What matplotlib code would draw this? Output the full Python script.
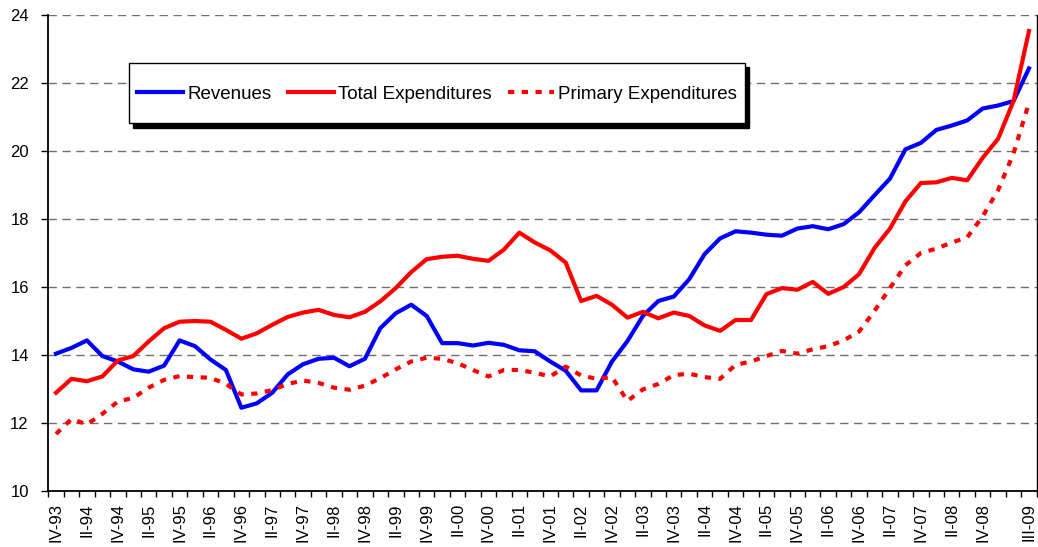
import numpy as np
import matplotlib
matplotlib.use("Agg")
import matplotlib.pyplot as plt
from matplotlib.lines import Line2D
from matplotlib.legend_handler import HandlerLine2D

plt.rcParams['font.family'] = ['Liberation Sans', 'DejaVu Sans']

# quarters IV-93 ... III-09
quarters = []
for y in range(1993, 2010):
    for q in ['I', 'II', 'III', 'IV']:
        quarters.append(q + '-' + str(y)[2:])
quarters = quarters[3:3 + 64]

revenues = [14.03, 14.20, 14.42, 13.96, 13.80, 13.57, 13.50, 13.68, 14.42, 14.25,
            13.86, 13.55, 12.44, 12.57, 12.88, 13.42, 13.72, 13.88, 13.91, 13.66,
            13.88, 14.78, 15.22, 15.47, 15.14, 14.34, 14.34, 14.27, 14.35, 14.29,
            14.13, 14.10, 13.80, 13.53, 12.95, 12.95, 13.80, 14.40, 15.14, 15.58,
            15.71, 16.22, 16.96, 17.42, 17.63, 17.59, 17.53, 17.50, 17.71, 17.78,
            17.69, 17.84, 18.19, 18.69, 19.18, 20.04, 20.23, 20.61, 20.74, 20.89,
            21.24, 21.33, 21.46, 22.42]

total_exp = [12.88, 13.29, 13.22, 13.36, 13.83, 13.96, 14.39, 14.78, 14.97, 14.99,
             14.97, 14.73, 14.47, 14.63, 14.88, 15.11, 15.24, 15.32, 15.17, 15.10,
             15.26, 15.57, 15.96, 16.43, 16.81, 16.88, 16.91, 16.82, 16.76, 17.09,
             17.59, 17.30, 17.07, 16.71, 15.58, 15.73, 15.47, 15.09, 15.26, 15.07,
             15.24, 15.14, 14.86, 14.70, 15.02, 15.02, 15.78, 15.96, 15.91, 16.14,
             15.79, 15.99, 16.37, 17.14, 17.71, 18.51, 19.05, 19.07, 19.20, 19.13,
             19.79, 20.35, 21.46, 23.52]

primary_exp = [11.67, 12.11, 11.95, 12.26, 12.62, 12.73, 13.03, 13.26, 13.37, 13.34,
               13.32, 13.14, 12.83, 12.86, 12.96, 13.14, 13.24, 13.17, 13.03, 12.97,
               13.09, 13.31, 13.57, 13.80, 13.91, 13.88, 13.75, 13.55, 13.36, 13.55,
               13.55, 13.47, 13.36, 13.65, 13.39, 13.29, 13.34, 12.64, 12.98, 13.14,
               13.40, 13.44, 13.34, 13.29, 13.70, 13.80, 13.96, 14.11, 14.03, 14.16,
               14.25, 14.42, 14.68, 15.29, 15.96, 16.63, 16.99, 17.12, 17.30, 17.45,
               18.07, 18.84, 19.92, 21.41]

label_idx = list(range(0, 61, 2)) + [63]

x = np.arange(len(quarters))

fig = plt.figure(figsize=(10.38, 5.47), dpi=100)
ax = fig.add_axes([48.3 / 1038, 1 - 490.7 / 547, (1036.7 - 48.3) / 1038, (490.7 - 14.7) / 547])

ax.plot(x, revenues, color='#0000FF', lw=3, solid_joinstyle='round', label='Revenues')
ax.plot(x, total_exp, color='#FF0000', lw=3, solid_joinstyle='round', label='Total Expenditures')
ax.plot(x, primary_exp, color='#FF0000', lw=3, linestyle=(0, (1.5, 1.8)),
        dash_capstyle='butt', label='Primary Expenditures')

ax.set_xlim(-0.5, len(quarters) - 0.5)
ax.set_ylim(10, 24)
ax.set_yticks(np.arange(10, 25, 2))
ax.tick_params(axis='y', direction='out', length=5, width=1, pad=9, labelsize=12)

ax.set_xticks(np.arange(-0.5, len(quarters), 1))
ax.set_xticklabels([])
ax.set_xticks(label_idx, minor=True)
ax.set_xticklabels([quarters[i] for i in label_idx], minor=True, rotation=90)
ax.tick_params(axis='x', which='major', direction='out', length=4, width=1)
ax.tick_params(axis='x', which='minor', length=0, pad=9, labelsize=12)

for v in range(12, 25, 2):
    ax.axhline(v, color='#707070', lw=1, dashes=(6, 4), zorder=0)

ax.spines['top'].set_visible(False)
ax.spines['left'].set_linewidth(1.3)
ax.spines['bottom'].set_linewidth(1.3)
ax.spines['right'].set_linewidth(1)


# move legend lines down to the middle of the text
def lower_handle(lh, oh):
    lh.update_from(oh)
    lh.set_ydata(np.asarray(lh.get_ydata()) - 5)


leg = ax.legend(ncol=3, loc='upper left', bbox_to_anchor=(129 / 1038, 1 - 63 / 547),
                bbox_transform=fig.transFigure, borderaxespad=0, fontsize=13.5,
                frameon=True, fancybox=False, edgecolor='black', framealpha=1,
                borderpad=0.45, handleheight=3.2, handlelength=2.45, handletextpad=0.2,
                columnspacing=0.9,
                handler_map={Line2D: HandlerLine2D(update_func=lower_handle)},
                shadow={'ox': 3, 'oy': -3, 'color': 'black', 'alpha': 1})
leg.get_frame().set_linewidth(1)

fig.savefig('out.png', dpi=100)
